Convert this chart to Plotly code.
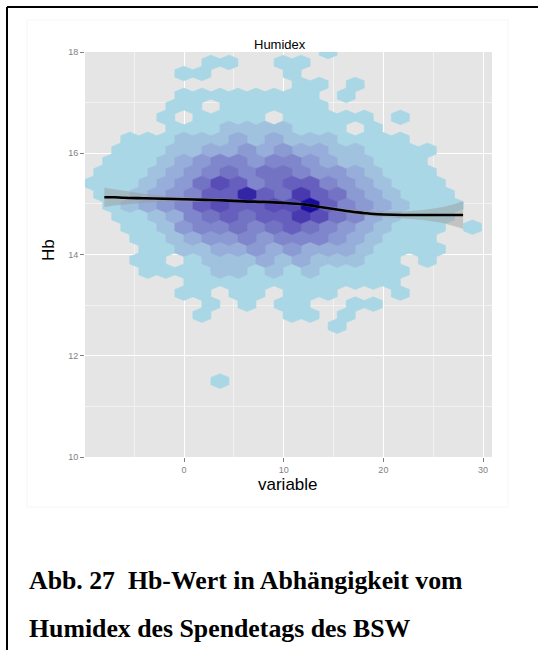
import numpy as np
import plotly.graph_objects as go

# ---------------------------------------------------------------------------
# Hexbin grid: centre of bin (row, col) is
#   x = X0 + DX*col (+ DX/2 on odd rows),  y = Y0 + DY*row
X0, DX = -9.07, 1.81
Y0, DY = 11.5, 0.217

# Count class of every occupied bin (0 = fewest, 'a' = 10 = most), per row:
# (row, first column, classes) -- '.' marks an empty bin inside the row
hex_rows = [
    (30, 13, "0"),
    (29, 6, "00..00"),
    (28, 5, "00....0"),
    (27, 11, "00.0"),
    (26, 5, "00000000.0"),
    (25, 4, "00.000000"),
    (24, 4, "0.0000.00000.0"),
    (23, 4, "0001111000.0"),
    (22, 2, "0001112121110000"),
    (21, 1, "000112232322110000"),
    (20, 1, "000123443443211000"),
    (19, 0, "0001234545543321000"),
    (18, 0, "00012357645664321000"),
    (17, 0, "00123466965865321000"),
    (16, 1, "01234676677a64321000"),
    (15, 1, "0012456566875421000"),
    (14, 2, "001344545654321000.0"),
    (13, 2, "00123343444321000"),
    (12, 3, "00112232322210000"),
    (11, 2, "00.011121211100.0"),
    (10, 3, "000011010100000"),
    (9, 5, "000000000000"),
    (8, 5, "00.00.000...0"),
    (7, 6, "0.0.00..00"),
    (6, 6, "0....00.0"),
    (5, 13, "0"),
    (0, 7, "0"),
]

# Loess smoother of Hb on the humidex with its standard-error band
smooth_x = [-8, -7, -6, -4, -2, 0, 2, 4, 6, 8, 10, 12, 13, 14, 15, 16, 17, 18, 19, 20, 22, 24, 26, 27, 28]
smooth_y = [15.13, 15.13, 15.12, 15.11, 15.10, 15.09, 15.08, 15.07, 15.05, 15.04, 15.02, 14.99, 14.96,
            14.93, 14.90, 14.87, 14.84, 14.82, 14.80, 14.79, 14.78, 14.78, 14.78, 14.78, 14.78]
smooth_se = [0.19, 0.16, 0.13, 0.09, 0.06, 0.045, 0.04, 0.035, 0.03, 0.03, 0.03, 0.03, 0.03,
             0.035, 0.04, 0.04, 0.045, 0.05, 0.055, 0.06, 0.07, 0.10, 0.16, 0.21, 0.27]

x_ticks = [0, 10, 20, 30]
y_ticks = [10, 12, 14, 16, 18]


# ---------------------------------------------------------------------------
# Fill colours: gradient lightblue -> dark blue, interpolated in CIE Lab
LOW_RGB = (170, 215, 230)
HIGH_RGB = (22, 12, 160)
M = np.array([[0.4124, 0.3576, 0.1805], [0.2126, 0.7152, 0.0722], [0.0193, 0.1192, 0.9505]])
M_INV = np.linalg.inv(M)
WHITE = (0.95047, 1.0, 1.08883)
D = 6 / 29


def _lin(c):
    c = c / 255
    return c / 12.92 if c <= 0.04045 else ((c + 0.055) / 1.055) ** 2.4


def _gam(c):
    c = 12.92 * c if c <= 0.0031308 else 1.055 * max(c, 0) ** (1 / 2.4) - 0.055
    return int(round(min(max(c, 0), 1) * 255))


def _f(t):
    return t ** (1 / 3) if t > D ** 3 else t / (3 * D * D) + 4 / 29


def _finv(t):
    return t ** 3 if t > D else 3 * D * D * (t - 4 / 29)


def rgb2lab(rgb):
    xyz = M @ np.array([_lin(v) for v in rgb])
    fx, fy, fz = (_f(xyz[i] / WHITE[i]) for i in range(3))
    return np.array([116 * fy - 16, 500 * (fx - fy), 200 * (fy - fz)])


def lab2rgb(lab):
    L, a, b = lab
    fy = (L + 16) / 116
    fx, fz = fy + a / 500, fy - b / 200
    xyz = np.array([WHITE[0] * _finv(fx), WHITE[1] * _finv(fy), WHITE[2] * _finv(fz)])
    return tuple(_gam(v) for v in M_INV @ xyz)


LAB_LO, LAB_HI = rgb2lab(LOW_RGB), rgb2lab(HIGH_RGB)
N_CLASSES = 11


def class_colour(k):
    t = k / (N_CLASSES - 1)
    r, g, b = lab2rgb(LAB_LO + (LAB_HI - LAB_LO) * t)
    return f"rgb({r},{g},{b})"


# ---------------------------------------------------------------------------
# Hexagon outlines grouped by count class
polys = {k: ([], []) for k in range(N_CLASSES)}
for row, c0, classes in hex_rows:
    cy = Y0 + DY * row
    shift = DX / 2 if row % 2 else 0.0
    for i, ch in enumerate(classes):
        if ch == ".":
            continue
        k = int(ch, 16)
        cx = X0 + DX * (c0 + i) + shift
        hx = [cx, cx + DX / 2, cx + DX / 2, cx, cx - DX / 2, cx - DX / 2, cx, None]
        hy = [cy + 2 * DY / 3, cy + DY / 3, cy - DY / 3, cy - 2 * DY / 3,
              cy - DY / 3, cy + DY / 3, cy + 2 * DY / 3, None]
        polys[k][0].extend(hx)
        polys[k][1].extend(hy)

fig = go.Figure()
for k in range(N_CLASSES):
    xs, ys = polys[k]
    if not xs:
        continue
    col = class_colour(k)
    fig.add_trace(go.Scatter(x=xs, y=ys, mode="lines", fill="toself", fillcolor=col,
                             line=dict(color=col, width=0.6), hoverinfo="skip",
                             showlegend=False))

# standard-error ribbon and smoother
sx = np.array(smooth_x, float)
sy = np.array(smooth_y, float)
se = np.array(smooth_se, float)
fig.add_trace(go.Scatter(x=np.concatenate([sx, sx[::-1]]),
                         y=np.concatenate([sy + se, (sy - se)[::-1]]),
                         mode="lines", fill="toself", fillcolor="rgba(153,153,153,0.45)",
                         line=dict(width=0), hoverinfo="skip", showlegend=False))
fig.add_trace(go.Scatter(x=sx, y=sy, mode="lines", line=dict(color="black", width=2.6),
                         line_shape="spline", hoverinfo="skip", showlegend=False))

# ---------------------------------------------------------------------------
W, H = 538, 650
ML, MR, MT, MB = 85, 46, 52, 193
PW, PH = W - ML - MR, H - MT - MB


def xp(px):
    return (px - ML) / PW


def yp(py):
    return (H - MB - py) / PH


tick_font = dict(family="Liberation Sans", size=9, color="#7F7F7F")
axis_common = dict(ticks="outside", ticklen=4, tickwidth=1, tickcolor="#7F7F7F",
                   tickfont=tick_font, showgrid=True, gridcolor="white", gridwidth=1.3,
                   zeroline=False, showline=False)

fig.update_layout(
    width=W, height=H,
    margin=dict(l=ML, r=MR, t=MT, b=MB),
    paper_bgcolor="white",
    plot_bgcolor="#E5E5E5",
    font=dict(family="Liberation Sans", color="black"),
    xaxis=dict(range=[-9.94, 30.9], tickvals=x_ticks, **axis_common,
               minor=dict(tickvals=[-5, 5, 15, 25], showgrid=True, gridcolor="#F2F2F2",
                          gridwidth=0.8, ticks="")),
    yaxis=dict(range=[10, 18], tickvals=y_ticks, **axis_common,
               minor=dict(tickvals=[11, 13, 15, 17], showgrid=True, gridcolor="#F2F2F2",
                          gridwidth=0.8, ticks="")),
    shapes=[
        # faint plot frame
        dict(type="rect", xref="paper", yref="paper", x0=xp(27), x1=xp(508), y0=yp(507), y1=yp(20),
             line=dict(color="#F6F6F6", width=1), fillcolor="rgba(0,0,0,0)", layer="below"),
        # page frame (left and top edge)
        dict(type="line", xref="paper", yref="paper", x0=xp(7), x1=xp(540), y0=yp(7), y1=yp(7),
             line=dict(color="black", width=2)),
        dict(type="line", xref="paper", yref="paper", x0=xp(7), x1=xp(7), y0=yp(7), y1=yp(652),
             line=dict(color="black", width=2)),
    ],
    annotations=[
        dict(text="Humidex", x=xp(280), y=yp(44), xref="paper", yref="paper", showarrow=False,
             xanchor="center", yanchor="middle", font=dict(size=13, color="black")),
        dict(text="variable", x=xp(288), y=yp(484), xref="paper", yref="paper", showarrow=False,
             xanchor="center", yanchor="middle", font=dict(size=17, color="black")),
        dict(text="Hb", x=xp(48), y=yp(250), xref="paper", yref="paper", showarrow=False,
             textangle=-90, xanchor="center", yanchor="middle", font=dict(size=17, color="black")),
        dict(text="<b>Abb. 27 \u00a0Hb-Wert in Abhängigkeit vom</b>", x=xp(27), y=yp(580),
             xref="paper", yref="paper", showarrow=False, xanchor="left", yanchor="middle",
             font=dict(family="Liberation Serif", size=25.8, color="black")),
        dict(text="<b>Humidex des Spendetags des BSW</b>", x=xp(27), y=yp(628),
             xref="paper", yref="paper", showarrow=False, xanchor="left", yanchor="middle",
             font=dict(family="Liberation Serif", size=25.8, color="black")),
    ],
)

fig.write_html("out.html")
